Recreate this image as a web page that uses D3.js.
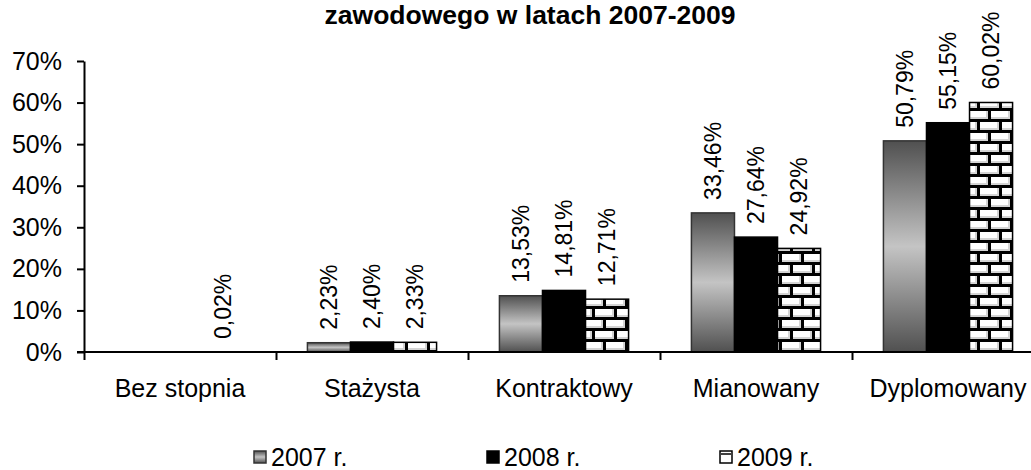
<!DOCTYPE html>
<html><head><meta charset="utf-8">
<script src="https://cdn.jsdelivr.net/npm/d3@7"></script>
<style>
body{margin:0;background:#fff}
svg{display:block}
text{font-family:"Liberation Sans",Arial,sans-serif;fill:#000}
</style>
</head><body>
<svg id="chart" width="1031" height="470"></svg>
<script>
// Teacher share by professional promotion level, 2007–2009
const categories = ["Bez stopnia", "Stażysta", "Kontraktowy", "Mianowany", "Dyplomowany"];
const years = ["2007 r.", "2008 r.", "2009 r."];
const values2007 = [null, 2.23, 13.53, 33.46, 50.79];
const values2008 = [null, 2.40, 14.81, 27.64, 55.15];
const values2009 = [0.02, 2.33, 12.71, 24.92, 60.02];
const yTicks = [0, 10, 20, 30, 40, 50, 60, 70];
const titleLine = "zawodowego w latach 2007-2009";

const seriesValues = [values2007, values2008, values2009];
const rows = [];
categories.forEach((c, i) => years.forEach((yr, j) => {
  const v = seriesValues[j][i];
  if (v !== null) rows.push({cat: c, year: yr, idx: j, value: v});
}));

const svg = d3.select("#chart");
const defs = svg.append("defs");

// 2007: vertical metallic gradient
const grad = defs.append("linearGradient").attr("id", "g2007")
  .attr("x1", 0).attr("y1", 0).attr("x2", 0).attr("y2", 1);
[[0, "#505050"], [0.5, "#c4c4c4"], [1, "#505050"]].forEach(([o, c]) =>
  grad.append("stop").attr("offset", o).attr("stop-color", c));

// 2009: brick pattern
const brick = defs.append("pattern").attr("id", "bricks")
  .attr("patternUnits", "userSpaceOnUse").attr("width", 22).attr("height", 22)
  .attr("x", 0).attr("y", 0);
brick.append("rect").attr("width", 22).attr("height", 22).attr("fill", "#000");
const brickCells = [[1, 1, 19], [-10, 12, 19], [12, 12, 19]];
brickCells.forEach(([bx, by, bw]) => {
  brick.append("rect").attr("x", bx).attr("y", by).attr("width", bw).attr("height", 8).attr("fill", "#d4d4d4");
  brick.append("rect").attr("x", bx).attr("y", by).attr("width", bw - 2).attr("height", 6).attr("fill", "#fff");
});

const x0 = d3.scaleBand().domain(categories).range([84, 1044]).padding(0);
const x1 = d3.scaleBand().domain(years).range([0, x0.bandwidth()]).paddingInner(0).paddingOuter(0.73);
const y = d3.scaleLinear().domain([0, 70]).range([352, 61]);

const fills = ["url(#g2007)", "#000", "url(#bricks)"];
const strokes = ["#333", "#000", "#000"];

// Title
svg.append("text").attr("x", 530).attr("y", 24).attr("text-anchor", "middle")
  .style("font-weight", "bold").style("font-size", "26.5px").text(titleLine);

// Bars
svg.append("g").selectAll("rect").data(rows).join("rect")
  .attr("x", d => x0(d.cat) + x1(d.year))
  .attr("y", d => y(d.value))
  .attr("width", x1.bandwidth())
  .attr("height", d => y(0) - y(d.value))
  .attr("fill", d => fills[d.idx])
  .attr("stroke", d => strokes[d.idx])
  .attr("stroke-width", 1.5);

// Value labels
const fmt = v => d3.format(".2f")(v).replace(".", ",") + "%";
svg.append("g").selectAll("text").data(rows).join("text")
  .attr("transform", d => `translate(${x0(d.cat) + x1(d.year) + x1.bandwidth() / 2},${y(d.value) - 13}) rotate(-90)`)
  .attr("dy", "0.35em")
  .style("font-size", "23px")
  .text(d => fmt(d.value));

// Y axis
const yAxis = svg.append("g").attr("transform", "translate(84,0)")
  .call(d3.axisLeft(y).tickValues(yTicks).tickFormat(d => d + "%").tickSize(7).tickSizeOuter(0).tickPadding(15));
yAxis.selectAll("text").style("font-size", "25px");
yAxis.selectAll("path,line").attr("stroke", "#000").attr("stroke-width", 2);

// X axis: category labels at band centers
const xAxis = svg.append("g").attr("transform", "translate(0,352)")
  .call(d3.axisBottom(x0).tickSize(0).tickPadding(27));
xAxis.selectAll("text").style("font-size", "25px");
xAxis.select(".domain").attr("d", "M77,0H1031").attr("stroke", "#000").attr("stroke-width", 2);

// X axis: tick marks at band edges
const edge = d3.scaleLinear().domain([0, categories.length]).range(x0.range());
const xTicks = svg.append("g").attr("transform", "translate(0,352)")
  .call(d3.axisBottom(edge).tickValues(d3.range(categories.length)).tickFormat("").tickSize(8).tickSizeOuter(0));
xTicks.select(".domain").remove();
xTicks.selectAll("line").attr("stroke", "#000").attr("stroke-width", 2);

// Legend
const legendX = d3.scalePoint().domain(years).range([254, 720]);
const leg = svg.append("g").selectAll("g").data(years).join("g")
  .attr("transform", d => `translate(${legendX(d)},451)`);
leg.append("rect").attr("width", 12).attr("height", 12)
  .attr("fill", (d, i) => i === 0 ? "url(#g2007)" : i === 1 ? "#000" : "#fff")
  .attr("stroke", (d, i) => strokes[i]).attr("stroke-width", 1.5);
leg.filter((d, i) => i === 2).append("line")
  .attr("x1", 1).attr("x2", 11).attr("y1", 3).attr("y2", 3).attr("stroke", "#000").attr("stroke-width", 1.5);
leg.append("text").attr("x", 17).attr("y", 15).style("font-size", "25px").text(d => d);
</script>
</body></html>
